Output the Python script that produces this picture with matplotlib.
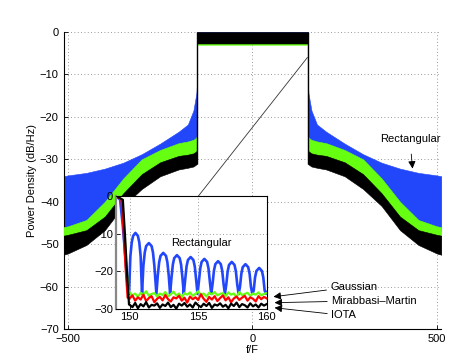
import numpy as np
import matplotlib
matplotlib.use("Agg")
from matplotlib import pyplot as plt

plt.rcParams['font.family'] = ['Liberation Sans', 'DejaVu Sans']
plt.rcParams['font.size'] = 8

# ---- main spectrum: envelopes of the noisy PSD bands (right half, mirrored) ----
edge = 150
f_env = [0, 150, 150, 152, 155, 160, 175, 200, 250, 300, 350, 400, 450, 500, 512]
blue_top = [0, 0, -12, -14.5, -16, -18.5, -21.8, -23.5, -26.3, -28.8, -30.8, -32.2, -33.2, -33.8, -34]
blue_bot = [-2, -2, -25.5, -25.8, -26.1, -26.4, -26.8, -27.2, -28.8, -31, -35.5, -41, -45.3, -46.8, -47]
green_top = [-2.3, -2.3, -24.5, -24.8, -25.1, -25.4, -25.8, -26.2, -27.8, -30, -34.5, -40, -44.3, -45.8, -46]
green_bot = [-3.0, -3.0, -28.8, -29.1, -29.3, -29.6, -29.9, -30.2, -31.7, -34.5, -39, -44.5, -47.7, -48.8, -49]
black_top = [0, 0, -27.8, -28.1, -28.3, -28.6, -28.9, -29.2, -30.7, -33.5, -38, -43.5, -46.7, -47.8, -48]
black_bot = [-2.7, -2.7, -31, -31.2, -31.4, -31.7, -32, -32.4, -34, -37, -41, -46.7, -50.2, -52.2, -52.5]

# ---- zoomed view around the band edge (149..160) ----
rect_f = [149.0, 149.3, 149.5, 149.7, 149.85, 149.95,
          150.05, 150.15, 150.25, 150.42, 150.6, 150.7, 150.8, 150.9,
          151.0, 151.1, 151.2, 151.4, 151.6, 151.7, 151.8, 151.95,
          152.05, 152.15, 152.25, 152.45, 152.65, 152.75, 152.85, 152.95,
          153.05, 153.15, 153.25, 153.45, 153.65, 153.75, 153.85, 153.95,
          154.05, 154.15, 154.25, 154.45, 154.65, 154.75, 154.85, 154.95,
          155.05, 155.15, 155.25, 155.45, 155.65, 155.75, 155.85, 155.95,
          156.05, 156.15, 156.25, 156.45, 156.65, 156.75, 156.85, 156.95,
          157.05, 157.15, 157.25, 157.45, 157.65, 157.75, 157.85, 157.95,
          158.05, 158.15, 158.25, 158.45, 158.65, 158.75, 158.85, 158.95,
          159.05, 159.15, 159.25, 159.45, 159.65, 159.75, 159.85, 159.95, 160.0]
rect_db = [0, -1, -8, -17, -24, -26,
           -16.0, -12.3, -10.6, -9.8, -10.6, -12.3, -16.0, -26,
           -18.5, -15.0, -13.3, -12.5, -13.3, -15.0, -18.5, -26,
           -21.1, -17.6, -15.9, -15.1, -15.9, -17.6, -21.1, -26,
           -21.7, -18.2, -16.5, -15.7, -16.5, -18.2, -21.7, -26,
           -22.2, -18.7, -17.0, -16.2, -17.0, -18.7, -22.2, -26,
           -22.7, -19.2, -17.5, -16.7, -17.5, -19.2, -22.7, -26,
           -23.3, -19.8, -18.1, -17.3, -18.1, -19.8, -23.3, -26,
           -23.5, -20.0, -18.3, -17.5, -18.3, -20.0, -23.5, -26,
           -24.1, -20.6, -18.9, -18.1, -18.9, -20.6, -24.1, -26,
           -25.1, -21.6, -19.9, -19.1, -19.9, -21.6, -25.1, -26, -25.5]

gauss_drop_f = [149.0, 149.45, 149.6, 149.75, 149.9]
gauss_drop_db = [0, -1, -9, -18, -25]
gauss_db = [-25.6, -26.4, -25.9, -26.8, -25.7, -26.2, -25.3, -26.5, -26.0, -25.8,
            -26.7, -25.9, -26.3, -25.5, -26.6, -26.1, -25.4, -26.4, -25.9, -26.9,
            -25.8, -26.2, -25.6, -26.5, -26.0, -25.3, -26.3, -25.9, -26.7, -25.7,
            -26.1, -25.5, -26.4, -26.0, -25.8, -26.6, -25.6, -26.2, -25.9, -26.8,
            -25.5, -26.3, -26.0, -25.7, -26.5, -25.9, -26.2, -25.6, -26.4, -26.0, -25.8]

mm_drop_f = [149.0, 149.4, 149.55, 149.7, 149.85]
mm_drop_db = [0, -1, -9, -19, -27]
mm_db = [-27.2, -26.4, -27.8, -26.9, -27.5, -26.2, -27.9, -27.1, -26.6, -28.2,
         -27.3, -26.8, -27.7, -26.3, -27.4, -28.0, -26.9, -27.2, -26.5, -27.8,
         -27.0, -28.3, -26.7, -27.4, -26.9, -27.6, -26.1, -27.3, -28.1, -26.8,
         -27.5, -26.6, -27.9, -27.1, -26.4, -27.7, -26.9, -28.2, -27.2, -26.7,
         -27.6, -27.0, -26.5, -27.8, -26.9, -27.3, -28.0, -26.6, -27.4, -26.8, -27.2]

iota_drop_f = [149.0, 149.5, 149.65, 149.8, 149.95]
iota_drop_db = [0, -1, -10, -20, -28.8]
iota_db = [-28.9, -29.5, -28.4, -29.8, -28.7, -29.3, -28.2, -29.6, -28.9, -29.1,
           -28.5, -29.7, -28.8, -29.2, -28.3, -29.5, -28.9, -29.9, -28.6, -29.1,
           -28.4, -29.4, -28.8, -29.6, -28.3, -29.0, -29.5, -28.6, -29.2, -28.4,
           -29.7, -28.8, -29.1, -28.5, -29.4, -28.9, -29.8, -28.6, -29.2, -28.3,
           -29.5, -28.7, -29.0, -29.6, -28.5, -29.3, -28.8, -29.6, -28.6, -29.1, -28.7]

blue = '#2247fa'
green = '#66ff11'


def mirror(f, v):
    f = np.asarray(f, float)
    v = np.asarray(v, float)
    return np.concatenate([-f[::-1], f]), np.concatenate([v[::-1], v])


fig = plt.figure(figsize=(4.57, 3.63), dpi=100)
ax = fig.add_axes([0.139, 0.0937, 0.8267, 0.8181])

x, bt = mirror(f_env, blue_top)
_, bb = mirror(f_env, blue_bot)
ax.fill_between(x, bb, bt, color=blue, lw=0.4, ec=blue, zorder=2)
_, gt = mirror(f_env, green_top)
_, gb = mirror(f_env, green_bot)
ax.fill_between(x, gb, gt, color=green, lw=0.4, ec=green, zorder=3)
_, kt = mirror(f_env, black_top)
_, kb = mirror(f_env, black_bot)
ax.fill_between(x, kb, kt, color='k', lw=0.4, ec='k', zorder=4)
ax.vlines([-edge, edge], black_bot[2], 0, color='k', lw=1.0, zorder=4)

ax.set_xlim(-512, 512)
ax.set_ylim(-70, 0)
ax.set_xticks([-500, 0, 500])
ax.set_yticks(np.arange(-70, 1, 10))
ax.grid(True, linestyle=(0, (1, 3)), color='#777777', lw=0.6)
ax.set_axisbelow(True)
for s in ['top', 'right']:
    ax.spines[s].set_visible(False)
ax.tick_params(direction='in', length=3, width=0.6)
ax.set_xlabel('f/F', labelpad=1)
ax.set_ylabel('Power Density (dB/Hz)', labelpad=2)

# annotations on the main axes
ax.annotate('Rectangular', xy=(434, -32.2), xytext=(427, -25.3), ha='center', va='center',
            arrowprops=dict(arrowstyle='-|>', color='k', lw=0.6, mutation_scale=11,
                            shrinkA=5, shrinkB=0), zorder=6)
labels = ['Gaussian', 'Mirabbasi\u2013Martin', 'IOTA']
label_pos = [(212, -60.0), (214, -63.3), (214, -66.8)]
arrow_tips = [(57, -62.4), (60, -63.8), (60, -65.0)]
for lab, pos, tip in zip(labels, label_pos, arrow_tips):
    ax.annotate(lab, xy=tip, xytext=pos, ha='left', va='center',
                arrowprops=dict(arrowstyle='-|>', color='k', lw=0.6, mutation_scale=11,
                                shrinkA=1, shrinkB=0), zorder=6)

# connector from the inset to the band edge
ax.plot([-146.3, 149], [-38.65, -6.0], color='#333333', lw=0.6, zorder=5)

# ---- inset ----
ins = fig.add_axes([0.2538, 0.1488, 0.3298, 0.3113])
ins.plot(rect_f, rect_db, color=blue, lw=1.9)
gf = list(gauss_drop_f) + list(np.linspace(150, 160, len(gauss_db)))
ins.plot(gf, gauss_drop_db + gauss_db, color=green, lw=1.6)
mf = list(mm_drop_f) + list(np.linspace(150, 160, len(mm_db)))
ins.plot(mf, mm_drop_db + mm_db, color='r', lw=1.6)
kf = list(iota_drop_f) + list(np.linspace(150, 160, len(iota_db)))
ins.plot(kf, iota_drop_db + iota_db, color='k', lw=1.6)
ins.text(153.0, -12.4, 'Rectangular', ha='left', va='center')
ins.set_xlim(149, 160)
ins.set_ylim(-30, 0)
ins.set_xticks([150, 155, 160])
ins.set_yticks([-30, -20, -10, 0])
ins.grid(True, linestyle=(0, (1, 3)), color='#777777', lw=0.6)
ins.tick_params(direction='in', length=3, width=0.6, pad=2)
ins.spines['left'].set_color('#888888')
ins.spines['left'].set_linewidth(1.6)

fig.savefig('out.png', dpi=100)
